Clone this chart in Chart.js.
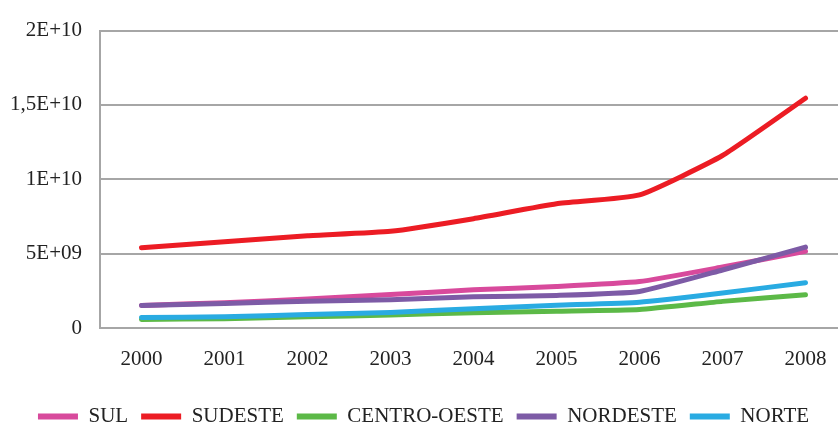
<!DOCTYPE html>
<html>
<head>
<meta charset="utf-8">
<script src="https://cdn.jsdelivr.net/npm/chart.js@4/dist/chart.umd.min.js"></script>
<style>
  html, body { margin: 0; padding: 0; background: #fff; overflow: hidden; }
  #wrap { width: 847px; height: 437px; }
</style>
</head>
<body>
<div id="wrap"><canvas id="grafico"></canvas></div>
<script>
// Eixo X
const anos = ['2000', '2001', '2002', '2003', '2004', '2005', '2006', '2007', '2008'];

// Valores por região
const sul         = [1.52e9, 1.70e9, 1.95e9, 2.25e9, 2.57e9, 2.79e9, 3.12e9, 4.10e9, 5.16e9];
const sudeste     = [5.40e9, 5.80e9, 6.20e9, 6.50e9, 7.35e9, 8.35e9, 8.95e9, 11.6e9, 15.45e9];
const centroOeste = [0.58e9, 0.62e9, 0.75e9, 0.88e9, 1.03e9, 1.13e9, 1.24e9, 1.79e9, 2.24e9];
const nordeste    = [1.52e9, 1.65e9, 1.80e9, 1.90e9, 2.10e9, 2.19e9, 2.46e9, 3.90e9, 5.44e9];
const norte       = [0.70e9, 0.75e9, 0.90e9, 1.05e9, 1.30e9, 1.53e9, 1.73e9, 2.35e9, 3.05e9];

// Rótulos do eixo Y
const rotulosY = { 0: '0', 5e9: '5E+09', 1e10: '1E+10', 1.5e10: '1,5E+10', 2e10: '2E+10' };

const fonte = 'Liberation Serif';

function serie(nome, valores, cor, ordem) {
  return {
    label: nome,
    data: valores,
    borderColor: cor,
    backgroundColor: cor,
    borderWidth: 5,
    pointRadius: 0,
    tension: 0.15,
    borderCapStyle: 'round',
    borderJoinStyle: 'round',
    order: ordem
  };
}

const data = {
  labels: anos,
  datasets: [
    serie('SUL', sul, '#d84a9c', 5),
    serie('SUDESTE', sudeste, '#ec1c24', 4),
    serie('CENTRO-OESTE', centroOeste, '#5cb947', 3),
    serie('NORDESTE', nordeste, '#7d5ba6', 2),
    serie('NORTE', norte, '#29abe2', 1)
  ]
};

const config = {
  type: 'line',
  data: data,
  options: {
    responsive: true,
    maintainAspectRatio: false,
    animation: false,
    layout: { padding: { top: 5, left: 0, right: 0, bottom: 0 } },
    plugins: {
      tooltip: { enabled: false },
      legend: {
        position: 'bottom',
        labels: {
          color: '#222',
          font: { family: fonte, size: 21 },
          boxWidth: 40,
          boxHeight: 6,
          padding: 13,
          sort: function (a, b) { return a.datasetIndex - b.datasetIndex; },
          generateLabels: function (chart) {
            const itens = Chart.defaults.plugins.legend.labels.generateLabels(chart);
            itens.forEach(function (i) { i.lineWidth = 0; });
            return itens;
          }
        }
      }
    },
    scales: {
      x: {
        offset: true,
        grid: { display: false },
        border: { display: true, color: '#a6a6a6', width: 2 },
        ticks: { color: '#222', font: { family: fonte, size: 21 }, padding: 11, maxRotation: 0 },
        afterFit: function (s) { s.height = 65; }
      },
      y: {
        min: 0,
        max: 2e10,
        grid: { color: '#a6a6a6', lineWidth: 2, drawTicks: false },
        border: { display: true, color: '#a6a6a6', width: 2 },
        ticks: {
          stepSize: 5e9,
          color: '#222',
          padding: 18,
          font: { family: fonte, size: 21 },
          callback: function (v) { return rotulosY[v]; }
        },
        afterFit: function (s) { s.width = 100; }
      }
    }
  }
};

const grafico = new Chart(document.getElementById('grafico'), config);
</script>
</body>
</html>
